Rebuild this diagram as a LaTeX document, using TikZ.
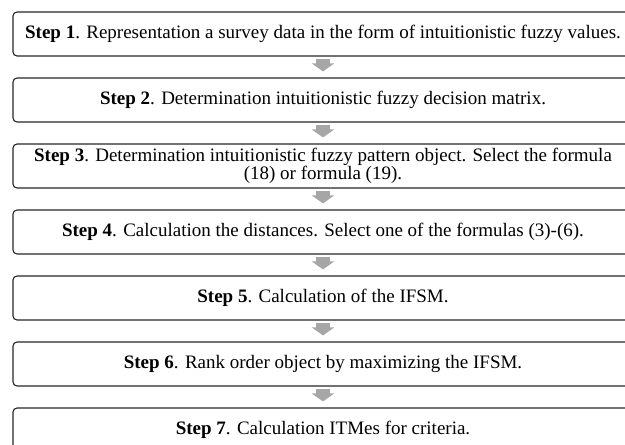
\documentclass[tikz,border=0pt]{standalone}
\usepackage{fontspec}
\setmainfont{Liberation Serif}
\usetikzlibrary{arrows.meta}

\begin{document}
\begin{tikzpicture}[x=1pt,y=1pt,
  stepbox/.style={draw=black!85, line width=1.1pt, rounded corners=4pt,
    minimum width=620pt, minimum height=44pt, inner sep=0pt, align=center,
    font=\fontsize{19}{17.5}\selectfont},
  flow/.style={draw=black!35, line width=14pt, -{Triangle[width=22pt,length=8pt]},
    shorten <=2pt, shorten >=6pt}]
  \useasboundingbox (0,0) rectangle (625,-445);
  % the seven steps, one under the other
  \node[stepbox] (s1) at (323,-34) {\textbf{Step 1}. Representation a survey data in the form of intuitionistic fuzzy values.};
  \node[stepbox] (s2) at (323,-100) {\textbf{Step 2}. Determination intuitionistic fuzzy decision matrix.};
  \node[stepbox] (s3) at (323,-166) {\textbf{Step 3}. Determination intuitionistic fuzzy pattern object. Select the formula\\(18) or formula (19).};
  \node[stepbox] (s4) at (323,-232) {\textbf{Step 4}. Calculation the distances. Select one of the formulas (3)-(6).};
  \node[stepbox] (s5) at (323,-298) {\textbf{Step 5}. Calculation of the IFSM.};
  \node[stepbox] (s6) at (323,-364) {\textbf{Step 6}. Rank order object by maximizing the IFSM.};
  \node[stepbox] (s7) at (323,-430) {\textbf{Step 7}. Calculation ITMes for criteria.};
  % grey block arrows between them
  \foreach \a/\b in {s1/s2,s2/s3,s3/s4,s4/s5,s5/s6,s6/s7}
    \draw[flow] (\a.south) -- (\b.north);
\end{tikzpicture}
\end{document}
